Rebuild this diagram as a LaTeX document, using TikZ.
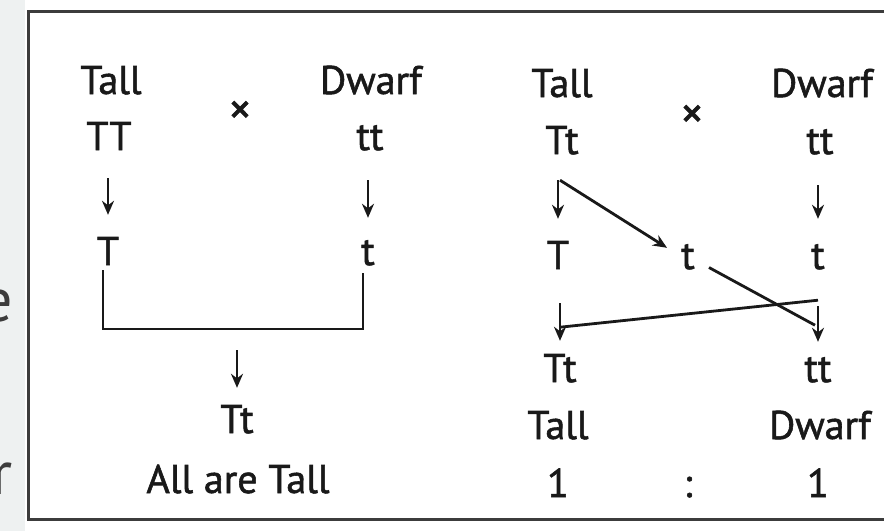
\documentclass[tikz,border=0pt]{standalone}
\usepackage{fontspec}
\setmainfont{PT Sans}
\newfontfamily\medfont{PT Sans}[FakeBold=1.4]
\usetikzlibrary{arrows.meta,positioning,calc}
\definecolor{ink}{RGB}{25,25,25}
\definecolor{rim}{RGB}{60,60,60}
\definecolor{strip}{RGB}{238,241,241}

\tikzset{
  lbl/.style={inner sep=0pt,anchor=base,text=ink,
    font=\medfont\fontsize{40}{42}\selectfont,text height=27pt,text depth=0pt},
  sym/.style={inner sep=0pt,text=ink,font=\medfont\fontsize{46}{46}\selectfont},
  link/.style={line width=2.8pt,draw=ink},
  down/.style 2 args={link,-{Stealth[length=14pt,width=12pt]},
    shorten <=#1pt,shorten >=#2pt},
}

\begin{document}
\begin{tikzpicture}[x=1pt,y=-1pt]
\useasboundingbox (0,0) rectangle (884,531);
\clip (0,0) rectangle (884,531);
\fill[white] (0,0) rectangle (884,531);

% cut-off page edge on the left
\begin{scope}
\clip (0,0) rectangle (25,531);
\fill[strip] (0,0) rectangle (25,531);
\node[inner sep=0pt,anchor=base east,text=rim,font=\fontsize{62}{62}\selectfont] (cutE) at (13,321) {e};
\node[inner sep=0pt,anchor=base east,text=rim,font=\fontsize{62}{62}\selectfont] (cutR) at (13,494) {r};
\end{scope}

\draw[rim,line width=3pt] (28,11) rectangle (900,519);

% monohybrid cross TT x tt
\node[lbl] (tallL) at (111,94) {Tall};
\node[sym] (crossL) at (240,113) {×};
\node[lbl] (dwarfL) at (371,94) {Dwarf};
\node[lbl] (TT) at (109,150) {TT};
\node[lbl] (ttL) at (370,150) {tt};
\node[lbl] (T) at (108,265) {T};
\node[lbl] (t) at (368,265) {t};
\node[lbl] (F1) at (237,433) {Tt};
\node[lbl] (allTall) at (238,493) {All are Tall};

\draw[down={28}{23}] (T.north |- TT.south) -- (T.north);
\draw[down={30}{20}] (t.north |- ttL.south) -- (t.north);
\coordinate (join) at (237,329);
\draw[link] ([xshift=-5pt,yshift=-5pt]T.south) |- (join) -| ([xshift=-5pt,yshift=-8pt]t.south);
\draw[down={21}{18}] (join) -- (F1.north);

% test cross Tt x tt
\node[lbl] (tallR) at (562,97) {Tall};
\node[sym] (crossR) at (692,117) {×};
\node[lbl] (dwarfR) at (822,97) {Dwarf};
\node[lbl] (Tt) at (562,154) {Tt};
\node[lbl] (ttR) at (820,154) {tt};
\node[lbl] (TR) at (558,269) {T};
\node[lbl] (tm) at (688,269) {t};
\node[lbl] (tR) at (818,269) {t};
\node[lbl] (TtOff) at (560,382) {Tt};
\node[lbl] (ttOff) at (818,382) {tt};
\node[lbl] (tallOff) at (558,439) {Tall};
\node[lbl] (dwarfOff) at (820,439) {Dwarf};
\node[lbl] (oneA) at (558,497) {1};
\node[lbl] (ratio) at (688,497) {:};
\node[lbl] (oneB) at (818,497) {1};

\draw[down={26}{23}] (TR.north |- Tt.south) -- (TR.north);
\draw[down={31}{23}] (tR.north |- ttR.south) -- (tR.north);
\draw[down={34}{14}] (TtOff.north |- TR.south) -- (TtOff.north);
\draw[down={37}{13}] (ttOff.north |- tR.south) -- (ttOff.north);
\coordinate (split) at ([xshift=-2pt,yshift=-26pt]Tt.south);
\draw[link,-{Stealth[length=14pt,width=12pt]}] (split) -- ([xshift=-14pt,yshift=-6pt]tm.north west);
\draw[link] ([xshift=14pt,yshift=-12pt]tm.east) -- ([xshift=-3pt,yshift=-56pt]tR.south);
\draw[link] ([yshift=-31pt]tR.south) -- ([xshift=2pt,yshift=-58pt]TR.south);
\end{tikzpicture}
\end{document}
